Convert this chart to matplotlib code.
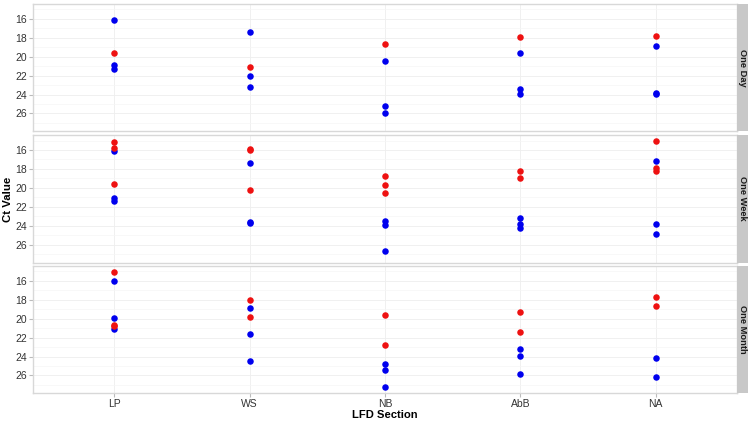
import matplotlib
matplotlib.use("Agg")
import matplotlib.pyplot as plt
import numpy as np

plt.rcParams['font.family'] = ['Liberation Sans', 'DejaVu Sans']

categories = ["LP", "WS", "NB", "AbB", "NA"]
panels = ["One Day", "One Week", "One Month"]

# values per category (LP, WS, NB, AbB, NA)
day_red = [[19.57], [21.06], [18.67], [17.95], [17.85]]
day_blue = [[16.08, 20.85, 21.25], [17.33, 22.0, 23.2], [20.5, 25.24, 25.97],
            [19.6, 23.44, 23.9], [18.85, 23.85, 23.95]]
week_red = [[15.2, 15.82, 19.6], [15.9, 15.98, 20.18], [18.73, 19.7, 20.5],
            [18.18, 18.9], [15.03, 17.94, 18.25]]
week_blue = [[16.1, 21.05, 21.4], [17.35, 23.55, 23.65], [23.45, 23.93, 26.7],
             [23.17, 23.83, 24.2], [17.11, 23.75, 24.83]]
month_red = [[15.1, 20.67, 20.8], [18.03, 19.77], [19.6, 22.75],
             [19.3, 21.45], [17.66, 18.7]]
month_blue = [[16.0, 19.9, 21.05], [18.86, 21.6, 24.5], [24.83, 25.45, 27.25],
              [23.2, 23.97, 25.87], [24.16, 26.2]]

yticks = [16, 18, 20, 22, 24, 26]

data = [(day_red, day_blue), (week_red, week_blue), (month_red, month_blue)]

W, H = 751, 422
fig = plt.figure(figsize=(W / 100, H / 100), dpi=100)

left, right = 33, 737
strip_w = 11
panel_y = [(4, 131), (135, 262.5), (266, 393)]

allvals = [v for p in data for s in p for c in s for v in c]
lo, hi = min(allvals), max(allvals)
pad = (hi - lo) * 0.05
ylim = (hi + pad, lo - pad)

for i, ((reds, blues), (top, bot)) in enumerate(zip(data, panel_y)):
    ax = fig.add_axes([left / W, 1 - bot / H, (right - left) / W, (bot - top) / H])
    ax.set_facecolor('white')
    for j in range(len(categories)):
        ax.scatter(np.full(len(blues[j]), j + 1), blues[j], s=22, color='#0000EE',
                   zorder=3, linewidths=0)
        ax.scatter(np.full(len(reds[j]), j + 1), reds[j], s=22, color='#EE1111',
                   zorder=3, linewidths=0)
    ax.set_xlim(0.4, 5.6)
    ax.set_ylim(*ylim)
    ax.set_yticks(yticks)
    ax.set_yticks(np.arange(15, 28, 2), minor=True)
    ax.set_xticks(range(1, 6))
    ax.grid(True, which='major', color='#EEEEEE', linewidth=0.6)
    ax.grid(True, which='minor', axis='y', color='#F5F5F5', linewidth=0.5)
    ax.set_axisbelow(True)
    for sp in ax.spines.values():
        sp.set_color('#D8D8D8')
        sp.set_linewidth(1.0)
    ax.tick_params(axis='both', which='major', length=3, color='#BBBBBB',
                   labelsize=7.5, labelcolor='#333333', pad=1.5)
    ax.tick_params(axis='y', which='minor', length=0)
    if i < 2:
        ax.set_xticklabels([])
        ax.tick_params(axis='x', length=0)
    else:
        ax.set_xticklabels(categories)

    sax = fig.add_axes([right / W, 1 - bot / H, strip_w / W, (bot - top) / H])
    sax.set_facecolor('#C8C8C8')
    sax.set_xticks([])
    sax.set_yticks([])
    for sp in sax.spines.values():
        sp.set_visible(False)
    sax.text(0.5, 0.5, panels[i], rotation=-90, ha='center', va='center',
             fontsize=6.7, fontweight='bold', color='#1A1A1A', transform=sax.transAxes)

fig.text(385 / W, 1 - 415.5 / H, "LFD Section", ha='center', va='center',
         fontsize=8.1, fontweight='bold')
fig.text(8.3 / W, 1 - 199 / H, "Ct Value", ha='center', va='center', rotation=90,
         fontsize=8.2, fontweight='bold')

fig.savefig("out.png", dpi=100)
